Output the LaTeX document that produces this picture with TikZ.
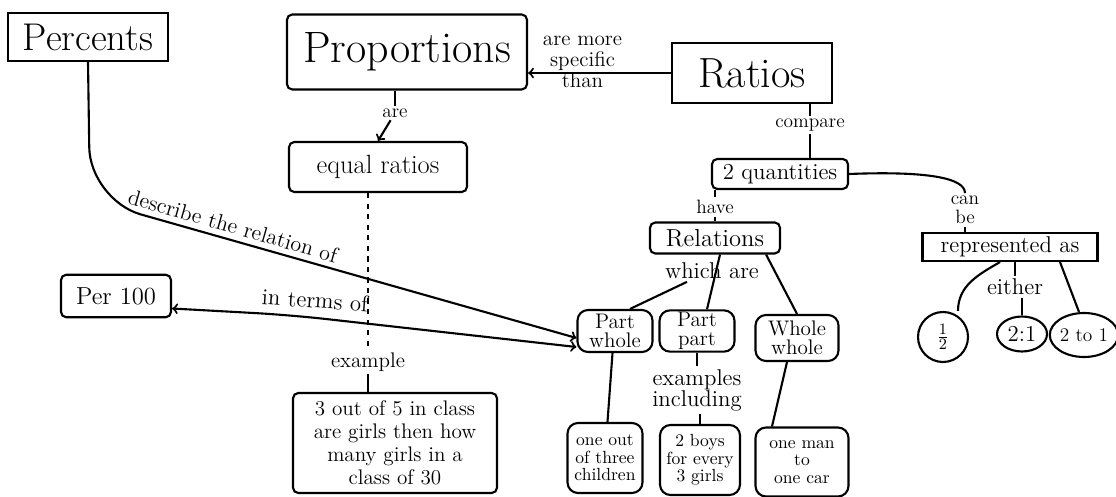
\documentclass[tikz,border=0pt]{standalone}
\usepackage{tikz}
\usetikzlibrary{shapes.geometric}

\begin{document}
\begin{tikzpicture}[line width=1.2pt,
    concept/.style={draw, align=center, rounded corners=3pt, inner sep=1pt},
    word/.style={align=center, inner sep=1pt, font=\fontsize{11}{11}\selectfont},
    numcircle/.style={draw, ellipse, inner sep=0pt, font=\fontsize{13}{13}\selectfont}]
    \useasboundingbox (0,0) rectangle (22.32,-9.94);
    % Draw top concepts
    \node[concept, minimum width=3.2cm, minimum height=0.96cm, rounded corners=0pt,
      font=\fontsize{22}{22}\selectfont] (percents) at (1.76,-0.74) {Percents};
    \node[concept, minimum width=4.8cm, minimum height=1.5cm,
      font=\fontsize{25}{25}\selectfont] (proportions) at (8.14,-1.04) {Proportions};
    \node[concept, minimum width=3.2cm, minimum height=1.2cm, rounded corners=0pt,
      font=\fontsize{24}{24}\selectfont] (ratios) at (15.04,-1.46) {Ratios};
    \node[word, font=\fontsize{12}{12}\selectfont] (specific) at (11.65,-1.24) {are more\\specific\\than};
    \draw[->] (ratios.west) -- (proportions.east |- ratios.west);

    % Draw proportions branch
    \node[word] (are) at (7.9,-2.26) {are};
    \node[concept, minimum width=3.56cm, minimum height=1.0cm,
      font=\fontsize{15}{15}\selectfont] (equal) at (7.56,-3.34) {equal ratios};
    \draw (proportions.south -| are) -- (are);
    \draw[->] (are) -- (equal.north);
    \node[word, font=\fontsize{12}{12}\selectfont] (example) at (7.36,-7.24) {example};
    \node[concept, minimum width=4.08cm, minimum height=2.0cm,
      font=\fontsize{12}{13}\selectfont] (exbox) at (7.9,-8.86)
      {3 out of 5 in class\\are girls then how\\many girls in a\\class of 30};
    \draw[dashed] (equal.south -| example) -- (example);
    \draw (example.south) -- (exbox.north -| example);

    % Draw percents branch
    \node[concept, minimum width=2.2cm, minimum height=0.85cm,
      font=\fontsize{14}{14}\selectfont] (per) at (2.32,-5.92) {Per 100};
    \node[word, rotate=-16, anchor=south, font=\fontsize{12.5}{12.5}\selectfont] (describe)
      at (4.6,-4.72) {describe the relation of};
    \node[word, rotate=-4, font=\fontsize{13}{13}\selectfont] (terms) at (6.3,-6.0) {in terms of};

    % Draw ratios branch
    \node[word] (compare) at (16.2,-2.5) {compare};
    \node[concept, minimum width=2.72cm, minimum height=0.6cm,
      font=\fontsize{13}{13}\selectfont] (quant) at (15.6,-3.48) {2 quantities};
    \draw (compare.north) -- (compare.north |- ratios.south);
    \draw (compare.south) -- (compare.south |- quant.north);
    \node[word] (have) at (14.3,-4.14) {have};
    \node[concept, minimum width=2.6cm, minimum height=0.62cm,
      font=\fontsize{14}{14}\selectfont] (relations) at (14.3,-4.76) {Relations};
    \draw (quant.south -| have) -- (have);
    \draw (have) -- (relations.north -| have);
    \node[word, font=\fontsize{13}{13}\selectfont] (which) at (14.24,-5.42) {which are};

    % Draw relation kinds
    \node[concept, minimum width=1.5cm, minimum height=0.84cm, rounded corners=6pt,
      font=\fontsize{12}{11}\selectfont] (pw) at (12.3,-6.62) {Part\\whole};
    \node[concept, minimum width=1.5cm, minimum height=0.76cm, rounded corners=6pt,
      font=\fontsize{12}{11}\selectfont] (pp) at (13.94,-6.62) {Part\\part};
    \node[concept, minimum width=1.66cm, minimum height=0.92cm, rounded corners=6pt,
      font=\fontsize{12}{11}\selectfont] (ww) at (15.94,-6.76) {Whole\\whole};
    \draw ([xshift=-0.5cm]which.south) -- ([xshift=0.3cm]pw.north);
    \draw ([xshift=0.1cm]relations.south) -- ([xshift=0.2cm]pp.north);
    \draw ([xshift=-0.3cm]relations.south east) -- (ww.north);
    \draw[->, rounded corners=30pt] (percents.south) -- (1.8,-4.0)
      -- ([yshift=-0.14cm]pw.west);
    \draw[<->, rounded corners=20pt] ([yshift=-0.25cm]per.east) -- (5.8,-6.3)
      -- ([yshift=-0.32cm]pw.west);

    % Draw examples
    \node[word, font=\fontsize{13}{12}\selectfont] (including) at (13.94,-7.8) {examples\\including};
    \node[concept, minimum width=1.5cm, minimum height=1.4cm, rounded corners=6pt,
      font=\fontsize{10}{10}\selectfont] (child) at (12.1,-9.16) {one out\\of three\\children};
    \node[concept, minimum width=1.6cm, minimum height=1.4cm, rounded corners=6pt,
      font=\fontsize{10}{10}\selectfont] (boys) at (14.0,-9.2) {2 boys\\for every\\3 girls};
    \node[concept, minimum width=1.86cm, minimum height=1.38cm, rounded corners=6pt,
      font=\fontsize{10}{10}\selectfont] (car) at (16.04,-9.24) {one man\\to\\one car};
    \draw ([xshift=-0.05cm]pw.south) -- ([xshift=0.05cm]child.north);
    \draw (pp.south) -- (including.north -| pp.south);
    \draw (including.south -| boys.north) -- (boys.north);
    \draw ([xshift=-0.2cm]ww.south) -- ([xshift=-0.6cm]car.north);

    % Draw representations
    \node[word] (canbe) at (19.3,-4.2) {can\\be};
    \node[concept, minimum width=3.5cm, minimum height=0.56cm, rounded corners=0pt,
      font=\fontsize{13}{13}\selectfont] (rep) at (20.2,-4.94) {represented as};
    \draw (quant.east) .. controls (18.5,-3.42) and (19.3,-3.55) .. (canbe.north);
    \draw (canbe.south) -- (canbe.south |- rep.north);
    \node[word, font=\fontsize{13}{13}\selectfont] (either) at (20.3,-5.74) {either};
    \node[numcircle, minimum width=1.0cm, minimum height=1.0cm] (half) at (18.86,-6.74) {$\frac{1}{2}$};
    \node[numcircle, minimum width=1.0cm, minimum height=0.7cm] (ratio) at (20.44,-6.68) {2:1};
    \node[numcircle, minimum width=1.24cm, minimum height=0.88cm,
      font=\fontsize{11}{11}\selectfont] (twoto) at (21.68,-6.7) {2 to 1};
    \draw ([xshift=-0.2cm]rep.south) to[out=210, in=90] ([xshift=0.3cm]half.north);
    \draw (rep.south -| either) -- (either);
    \draw (either.south -| ratio) -- (ratio.north);
    \draw ([xshift=1cm]rep.south) -- ([xshift=-0.1cm]twoto.north);
\end{tikzpicture}
\end{document}
